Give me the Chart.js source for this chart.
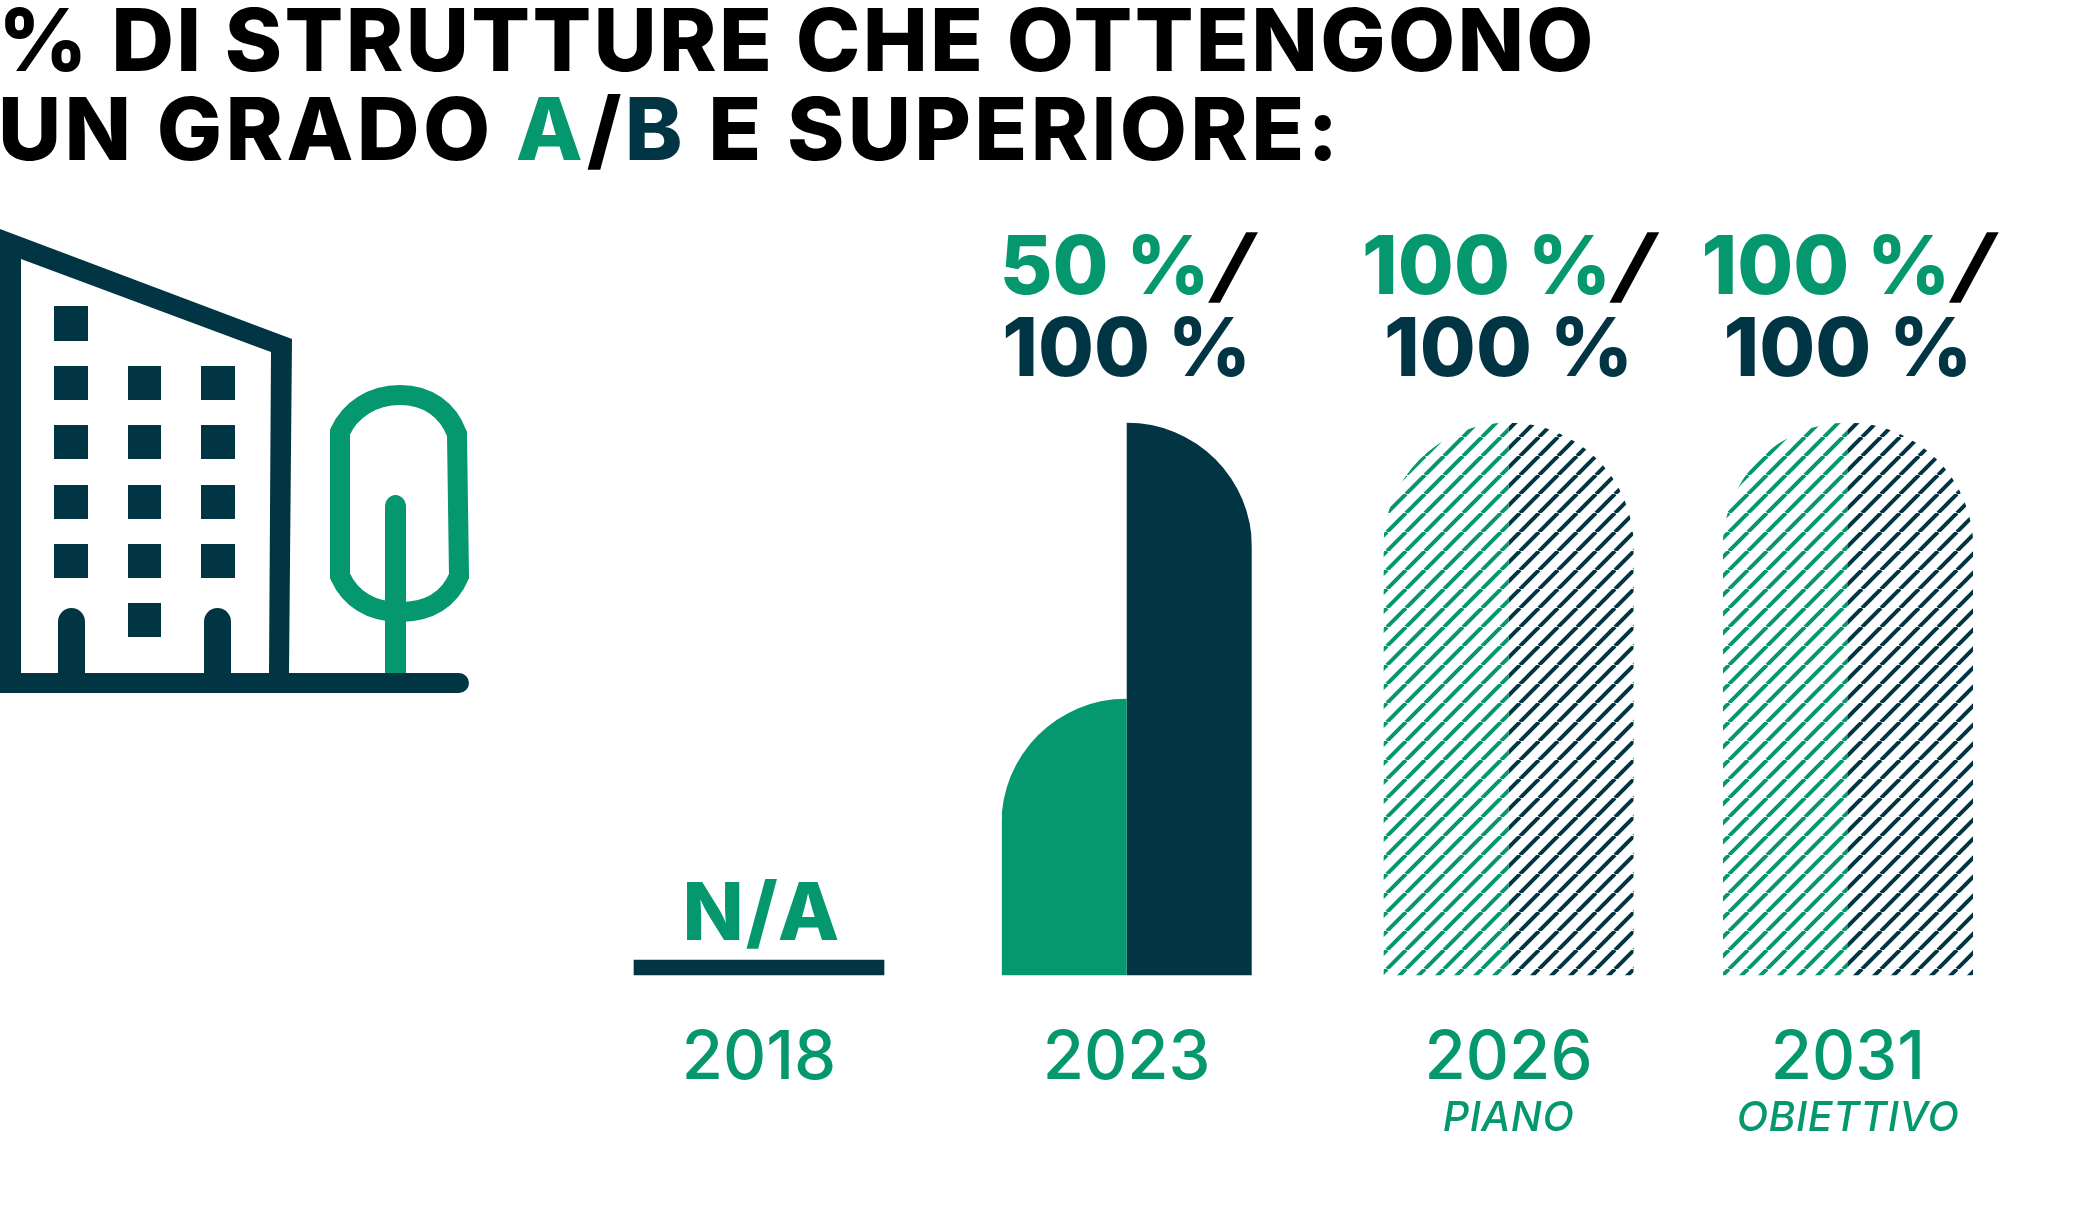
<!DOCTYPE html>
<html>
    <head>
        <meta charset="utf-8">
        <style>
            html, body { margin: 0; padding: 0; background: #fff; overflow: hidden; }
            #wrap { position: relative; width: 2083px; height: 1211px; }
            #chart { position: absolute; left: 0; top: 0; }
            #icon { position: absolute; left: 0; top: 0; }
            h1 {
                position: absolute; left: -2px; top: -5px; margin: 0;
                font: 800 87px/89px Inter, sans-serif;
                letter-spacing: 2.3px;
                color: #000;
                white-space: nowrap;
            }
            h1 .second { letter-spacing: 3.3px; }
            h1 .a { color: #05976d; }
            h1 .b { color: #013544; }
        </style>
    </head>
    <body>
        <script src="https://cdn.jsdelivr.net/npm/chart.js@4/dist/chart.umd.min.js"></script>
        <div id="wrap">
            <h1>% DI STRUTTURE CHE OTTENGONO<br><span class="second">UN GRADO <span class="a">A</span>/<span class="b">B</span> E SUPERIORE:</span></h1>
            <svg id="icon" width="480" height="700" viewBox="0 0 480 700">
                <g fill="#013544">
                    <path d="M0 229 L292 339 L289 673 L269 673 L271 352 L21 259 L21 673 L0 673 Z"/>
                    <rect x="54" y="306" width="34" height="35"/>
                    <rect x="54" y="366" width="34" height="34"/><rect x="128" y="366" width="33" height="34"/><rect x="201" y="366" width="34" height="34"/>
                    <rect x="54" y="425" width="34" height="34"/><rect x="128" y="425" width="33" height="34"/><rect x="201" y="425" width="34" height="34"/>
                    <rect x="54" y="485" width="34" height="34"/><rect x="128" y="485" width="33" height="34"/><rect x="201" y="485" width="34" height="34"/>
                    <rect x="54" y="544" width="34" height="34"/><rect x="128" y="544" width="33" height="34"/><rect x="201" y="544" width="34" height="34"/>
                    <rect x="128" y="603" width="33" height="34"/>
                    <path d="M58 673 V622 A13.5 14 0 0 1 85 622 V673 Z"/>
                    <path d="M204 673 V622 A13.5 14 0 0 1 231 622 V673 Z"/>
                </g>
                <g fill="none" stroke="#05976d" stroke-width="20">
                    <path d="M340 432 C350 410 372 395 400 395 C428 395 448 410 457 434 L459 576 C450 598 430 612 400 612 C370 612 350 598 340 576 Z"/>
                </g>
                <path d="M385 673 V507 A10.5 12 0 0 1 406 507 V673 Z" fill="#05976d"/>
                <path d="M0 673 H459 A10 10 0 0 1 459 693 H0 Z" fill="#013544"/>
            </svg>
            <canvas id="chart" width="2083" height="1211"></canvas>
        </div>
        <script>
            const categories = ["2018", "2023", "2026", "2031"];
            const subLabels = [null, null, "PIANO", "OBIETTIVO"];
            const gradeA = [null, 50, 100, 100];
            const gradeB = [null, 100, 100, 100];
            const naMarker = [2.7, null, null, null];
            const naLabel = "N/A";

            const green = "#05976d";
            const navy = "#013544";
            const fontName = "Inter, sans-serif";
            // columns are not evenly spaced in the original, so x is in slots
            const columnSlots = [0, 26, 53, 77];

            function hatch(colour) {
                let size = 19;
                let tile = document.createElement("canvas");
                tile.width = size;
                tile.height = size;
                let c = tile.getContext("2d");
                c.strokeStyle = colour;
                c.lineWidth = 4;
                [-size, 0, size].forEach((d) => {
                    c.beginPath();
                    c.moveTo(d, size);
                    c.lineTo(d + size, 0);
                    c.stroke();
                });
                return document.createElement("canvas").getContext("2d").createPattern(tile, "repeat");
            }

            function points(values) {
                return values.map((v, i) => ({ x: columnSlots[i], y: v }));
            }

            let greenFill = [green, green, hatch(green), hatch(green)];
            let navyFill = [navy, navy, hatch(navy), hatch(navy)];
            let dome = { topLeft: 125, topRight: 125, bottomLeft: 0, bottomRight: 0 };

            // each column is one dome, each dataset only shows its own half of it
            let halfBars = {
                id: "halfBars",
                beforeDatasetDraw(chart, args) {
                    let side = chart.data.datasets[args.index].side;
                    if (!side) return;
                    let ctx = chart.ctx;
                    ctx.save();
                    ctx.beginPath();
                    args.meta.data.forEach((bar) => {
                        if (!isFinite(bar.x)) return;
                        ctx.rect(side === "left" ? bar.x - 125 : bar.x, 0, 125, chart.height);
                    });
                    ctx.clip();
                },
                afterDatasetDraw(chart, args) {
                    if (chart.data.datasets[args.index].side) chart.ctx.restore();
                }
            };

            let labels = {
                id: "labels",
                afterDatasetsDraw(chart) {
                    let ctx = chart.ctx;
                    let x = chart.scales.x;
                    let top = chart.scales.y.getPixelForValue(100);
                    let base = chart.scales.y.getPixelForValue(0);
                    ctx.save();
                    ctx.textBaseline = "alphabetic";
                    categories.forEach((cat, i) => {
                        let cx = x.getPixelForValue(columnSlots[i]);
                        if (gradeA[i] === null) {
                            ctx.textAlign = "center";
                            ctx.font = "800 80px " + fontName;
                            ctx.letterSpacing = "2px";
                            ctx.fillStyle = green;
                            ctx.fillText(naLabel, cx + 3, base - 35);
                            ctx.letterSpacing = "0px";
                        } else {
                            ctx.font = "800 81px " + fontName;
                            let first = gradeA[i] + " %";
                            let w = ctx.measureText(first).width;
                            let start = cx + 2 - (w + 48) / 2;
                            ctx.textAlign = "left";
                            ctx.fillStyle = green;
                            ctx.fillText(first, start, top - 129);
                            // the slash leans more than the Inter one, so shear it
                            ctx.save();
                            ctx.translate(start + w, top - 129);
                            ctx.transform(1, 0, -0.27, 1, 0, 0);
                            ctx.fillStyle = "#000";
                            ctx.fillText("/", 0, 0);
                            ctx.restore();
                            ctx.textAlign = "center";
                            ctx.fillStyle = navy;
                            ctx.fillText(gradeB[i] + " %", cx, top - 47);
                        }
                        if (subLabels[i]) {
                            ctx.textAlign = "center";
                            ctx.font = "italic 500 41px " + fontName;
                            ctx.letterSpacing = "0.5px";
                            ctx.fillStyle = green;
                            ctx.fillText(subLabels[i], cx, base + 156);
                            ctx.letterSpacing = "0px";
                        }
                    });
                    ctx.restore();
                }
            };

            let chart = new Chart(document.getElementById("chart"), {
                type: "bar",
                data: {
                    datasets: [
                        { label: "Grado A", data: points(gradeA), backgroundColor: greenFill, side: "left", borderRadius: dome },
                        { label: "Grado B", data: points(gradeB), backgroundColor: navyFill, side: "right", borderRadius: dome },
                        { label: "N/A", data: points(naMarker), backgroundColor: navy }
                    ]
                },
                options: {
                    responsive: false,
                    animation: false,
                    devicePixelRatio: 1,
                    layout: {
                        autoPadding: false,
                        padding: { left: 759, right: 235, top: 423, bottom: 0 }
                    },
                    datasets: {
                        bar: { grouped: false, barThickness: 250, clip: false }
                    },
                    plugins: {
                        legend: { display: false },
                        tooltip: { enabled: false }
                    },
                    scales: {
                        x: {
                            type: "linear",
                            offset: false,
                            min: columnSlots[0],
                            max: columnSlots[columnSlots.length - 1],
                            grid: { display: false, offset: false },
                            border: { display: false },
                            afterBuildTicks(scale) {
                                scale.ticks = columnSlots.map((v) => ({ value: v }));
                            },
                            afterFit(scale) {
                                scale.height = 236;
                            },
                            ticks: {
                                autoSkip: false,
                                maxRotation: 0,
                                padding: 42,
                                color: green,
                                font: { family: fontName, size: 67, weight: "500", lineHeight: 1 },
                                callback: (value, i) => categories[i]
                            }
                        },
                        y: { display: false, min: 0, max: 100 }
                    }
                },
                plugins: [halfBars, labels]
            });
        </script>
    </body>
</html>
